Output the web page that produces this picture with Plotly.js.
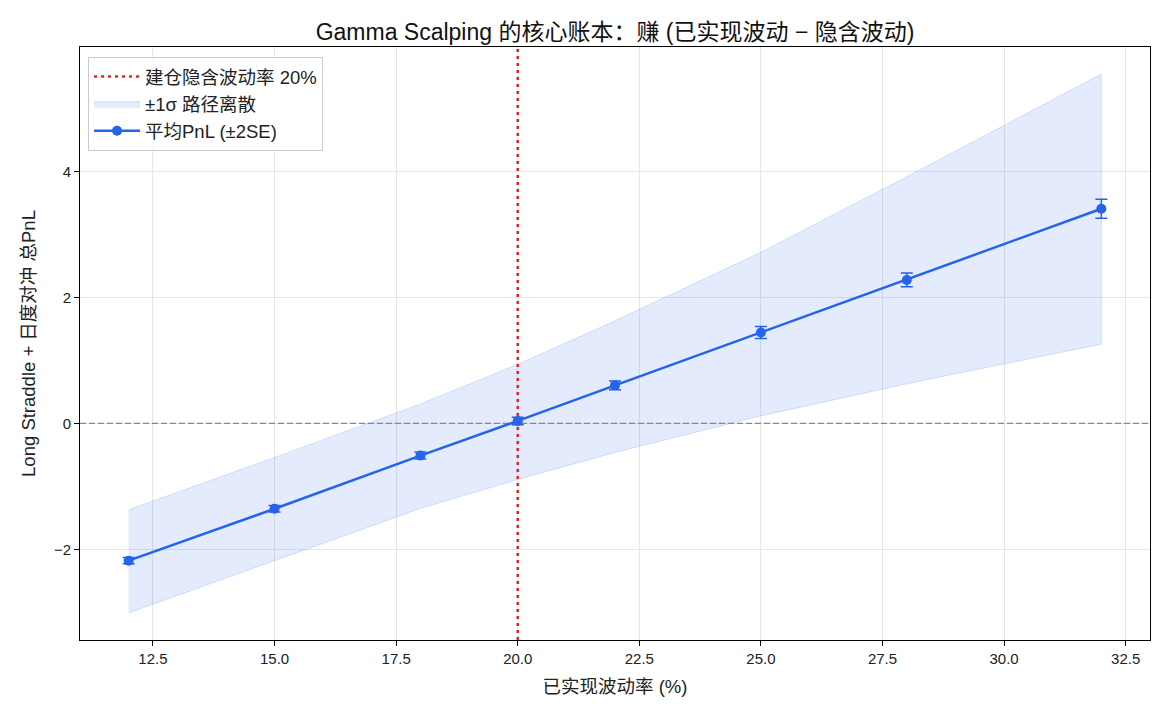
<!DOCTYPE html>
<html>
<head>
<meta charset="utf-8">
<script src="https://cdn.plot.ly/plotly-3.0.1.min.js"></script>
<style>
  html, body { margin: 0; padding: 0; background: #ffffff; }
  #chart { width: 1170px; height: 715px; }
</style>
</head>
<body>
<div id="chart"></div>
<script>
// Realised volatility levels (%) used in the simulation
const realizedVol = [12, 15, 18, 20, 22, 25, 28, 32];
// Mean total PnL of long straddle + daily delta hedge
const meanPnL = [-2.18, -1.355, -0.51, 0.04, 0.605, 1.445, 2.28, 3.41];
// Two standard errors of the mean
const twoSE = [0.05, 0.05, 0.055, 0.06, 0.07, 0.095, 0.11, 0.15];
// Mean ± one standard deviation across paths
const bandUpper = [-1.37, -0.54, 0.31, 0.94, 1.63, 2.72, 3.92, 5.55];
const bandLower = [-3.01, -2.18, -1.35, -0.89, -0.46, 0.12, 0.63, 1.26];
// Implied volatility at which the position was opened (%)
const impliedVol = 20;

// Axis extents
const xRange = [11, 33];
const yRange = [-3.44, 5.98];

const BLUE = '#2563eb';
const FONT = '"Liberation Sans", "Noto Sans CJK SC", sans-serif';

// closed polygon for the ±1σ band
const bandX = realizedVol.concat(realizedVol.slice().reverse());
const bandY = bandUpper.concat(bandLower.slice().reverse());

const traces = [
  {
    x: bandX, y: bandY,
    type: 'scatter', mode: 'lines',
    fill: 'toself',
    fillcolor: 'rgba(37,99,235,0.13)',
    line: { color: 'rgba(37,99,235,0.16)', width: 1 },
    name: '±1σ 路径离散',
    legendgroup: 'g2', legendrank: 2,
    hoverinfo: 'skip'
  },
  {
    // zero reference line
    x: xRange, y: [0, 0],
    type: 'scatter', mode: 'lines',
    line: { color: '#888888', width: 1.3, dash: '6px,3px' },
    showlegend: false, hoverinfo: 'skip'
  },
  {
    // implied volatility at entry
    x: [impliedVol, impliedVol], y: yRange,
    type: 'scatter', mode: 'lines',
    line: { color: '#dc2626', width: 2.5, dash: '3px,4px' },
    name: '建仓隐含波动率 20%',
    legendgroup: 'g1', legendrank: 1,
    hoverinfo: 'skip'
  },
  {
    x: realizedVol, y: meanPnL,
    type: 'scatter', mode: 'lines+markers',
    line: { color: BLUE, width: 2.5 },
    marker: { color: BLUE, size: 10 },
    error_y: { type: 'data', array: twoSE, visible: true, color: BLUE, thickness: 1.5, width: 6 },
    name: '平均PnL (±2SE)',
    legendgroup: 'g3', legendrank: 3
  }
];

const layout = {
  width: 1170, height: 715,
  paper_bgcolor: '#ffffff', plot_bgcolor: '#ffffff',
  margin: { l: 80, r: 20, t: 47, b: 75 },
  font: { family: FONT, size: 15, color: '#222' },
  title: {
    text: 'Gamma Scalping 的核心账本：赚 (已实现波动 − 隐含波动)',
    font: { family: FONT, size: 23, color: '#111' },
    xref: 'paper', x: 0.5, xanchor: 'center',
    y: 0.955, yanchor: 'middle'
  },
  xaxis: {
    range: xRange,
    tickvals: [12.5, 15, 17.5, 20, 22.5, 25, 27.5, 30, 32.5],
    ticktext: ['12.5', '15.0', '17.5', '20.0', '22.5', '25.0', '27.5', '30.0', '32.5'],
    ticks: 'outside', ticklen: 5, tickcolor: '#000', tickwidth: 1,
    showgrid: true, gridcolor: '#e6e6e6', gridwidth: 1,
    zeroline: false,
    showline: true, linecolor: '#000', linewidth: 1, mirror: true,
    tickfont: { size: 15, color: '#222' },
    title: { text: '已实现波动率 (%)', font: { size: 18.5, color: '#222' }, standoff: 14 }
  },
  yaxis: {
    range: yRange,
    tickvals: [-2, 0, 2, 4],
    ticks: 'outside', ticklen: 5, tickcolor: '#000', tickwidth: 1,
    showgrid: true, gridcolor: '#e6e6e6', gridwidth: 1,
    zeroline: false,
    showline: true, linecolor: '#000', linewidth: 1, mirror: true,
    tickfont: { size: 15, color: '#222' },
    title: { text: 'Long Straddle + 日度对冲 总PnL', font: { size: 18.5, color: '#222' }, standoff: 13 }
  },
  showlegend: true,
  legend: {
    x: 0.0075, y: 0.983, xanchor: 'left', yanchor: 'top',
    bgcolor: 'rgba(255,255,255,0.85)',
    bordercolor: '#cccccc', borderwidth: 1,
    font: { family: FONT, size: 18.5, color: '#222' },
    traceorder: 'grouped', tracegroupgap: 0,
    itemwidth: 46
  }
};

Plotly.newPlot('chart', traces, layout, { displayModeBar: false, staticPlot: true });
</script>
</body>
</html>
